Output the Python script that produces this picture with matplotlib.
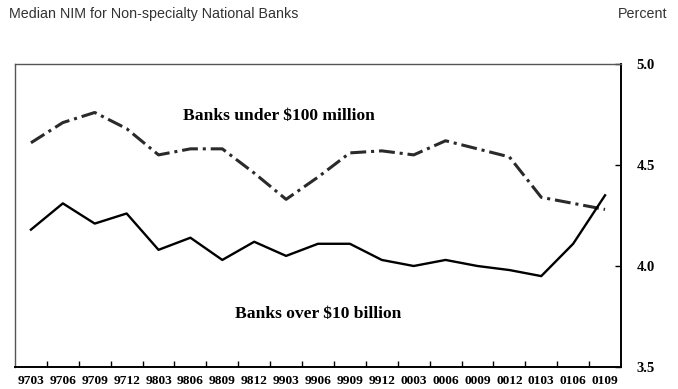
import matplotlib
matplotlib.use("Agg")
import matplotlib.pyplot as plt
import numpy as np

quarters = ["9703", "9706", "9709", "9712", "9803", "9806", "9809", "9812", "9903", "9906",
            "9909", "9912", "0003", "0006", "0009", "0012", "0103", "0106", "0109"]
small_banks = [4.61, 4.71, 4.76, 4.68, 4.55, 4.58, 4.58, 4.46, 4.33, 4.44,
               4.56, 4.57, 4.55, 4.62, 4.58, 4.54, 4.34, 4.31, 4.28]
large_banks = [4.18, 4.31, 4.21, 4.26, 4.08, 4.14, 4.03, 4.12, 4.05, 4.11,
               4.11, 4.03, 4.00, 4.03, 4.00, 3.98, 3.95, 4.11, 4.35]
yticks = [3.5, 4.0, 4.5, 5.0]

fig = plt.figure(figsize=(6.78, 3.89), dpi=100)
W, H = 678, 389
ax = fig.add_axes([15 / W, 1 - 367 / H, (621 - 15) / W, (367 - 64) / H])

x = np.arange(len(quarters))
ax.plot(x, small_banks, color="#2a2a2a", lw=2.2, dashes=(5.2, 1.6, 1.0, 1.6),
        dash_capstyle="butt")
ax.plot(x, large_banks, color="black", lw=1.7)

ax.set_xlim(-0.5, len(quarters) - 0.5)
ax.set_ylim(3.5, 5.0)

serif = ["Liberation Serif", "DejaVu Serif"]
ax.set_xticks(x)
ax.set_xticklabels(quarters, fontfamily=serif, fontweight="bold", fontsize=9.6)
ax.set_xticks(np.arange(0.5, len(quarters) - 0.5, 1), minor=True)
ax.tick_params(axis="x", which="major", length=0, pad=6)
ax.tick_params(axis="x", which="minor", direction="in", length=4, width=1)

ax.yaxis.tick_right()
ax.set_yticks(yticks)
ax.set_yticklabels([f"{v:.1f}" for v in yticks], fontfamily=serif, fontweight="bold", fontsize=10.5)
ax.tick_params(axis="y", direction="in", length=4, width=1, pad=11)

for s in ["left", "top"]:
    ax.spines[s].set_color("#555555")
    ax.spines[s].set_linewidth(1.0)
for s in ["right", "bottom"]:
    ax.spines[s].set_color("black")
    ax.spines[s].set_linewidth(1.4)

ax.text(279 / W, 1 - 116 / H, "Banks under $100 million", transform=fig.transFigure,
        ha="center", va="center", fontfamily=serif, fontweight="bold", fontsize=12.6)
ax.text(318 / W, 1 - 314 / H, "Banks over $10 billion", transform=fig.transFigure,
        ha="center", va="center", fontfamily=serif, fontweight="bold", fontsize=12.6)

fig.text(9 / W, 1 - 14 / H, "Median NIM for Non-specialty National Banks",
         ha="left", va="center", fontfamily="Liberation Sans", fontsize=10.3, color="#333333")
fig.text(667 / W, 1 - 14 / H, "Percent",
         ha="right", va="center", fontfamily="Liberation Sans", fontsize=10.3, color="#333333")

fig.savefig("out.png", dpi=100)
